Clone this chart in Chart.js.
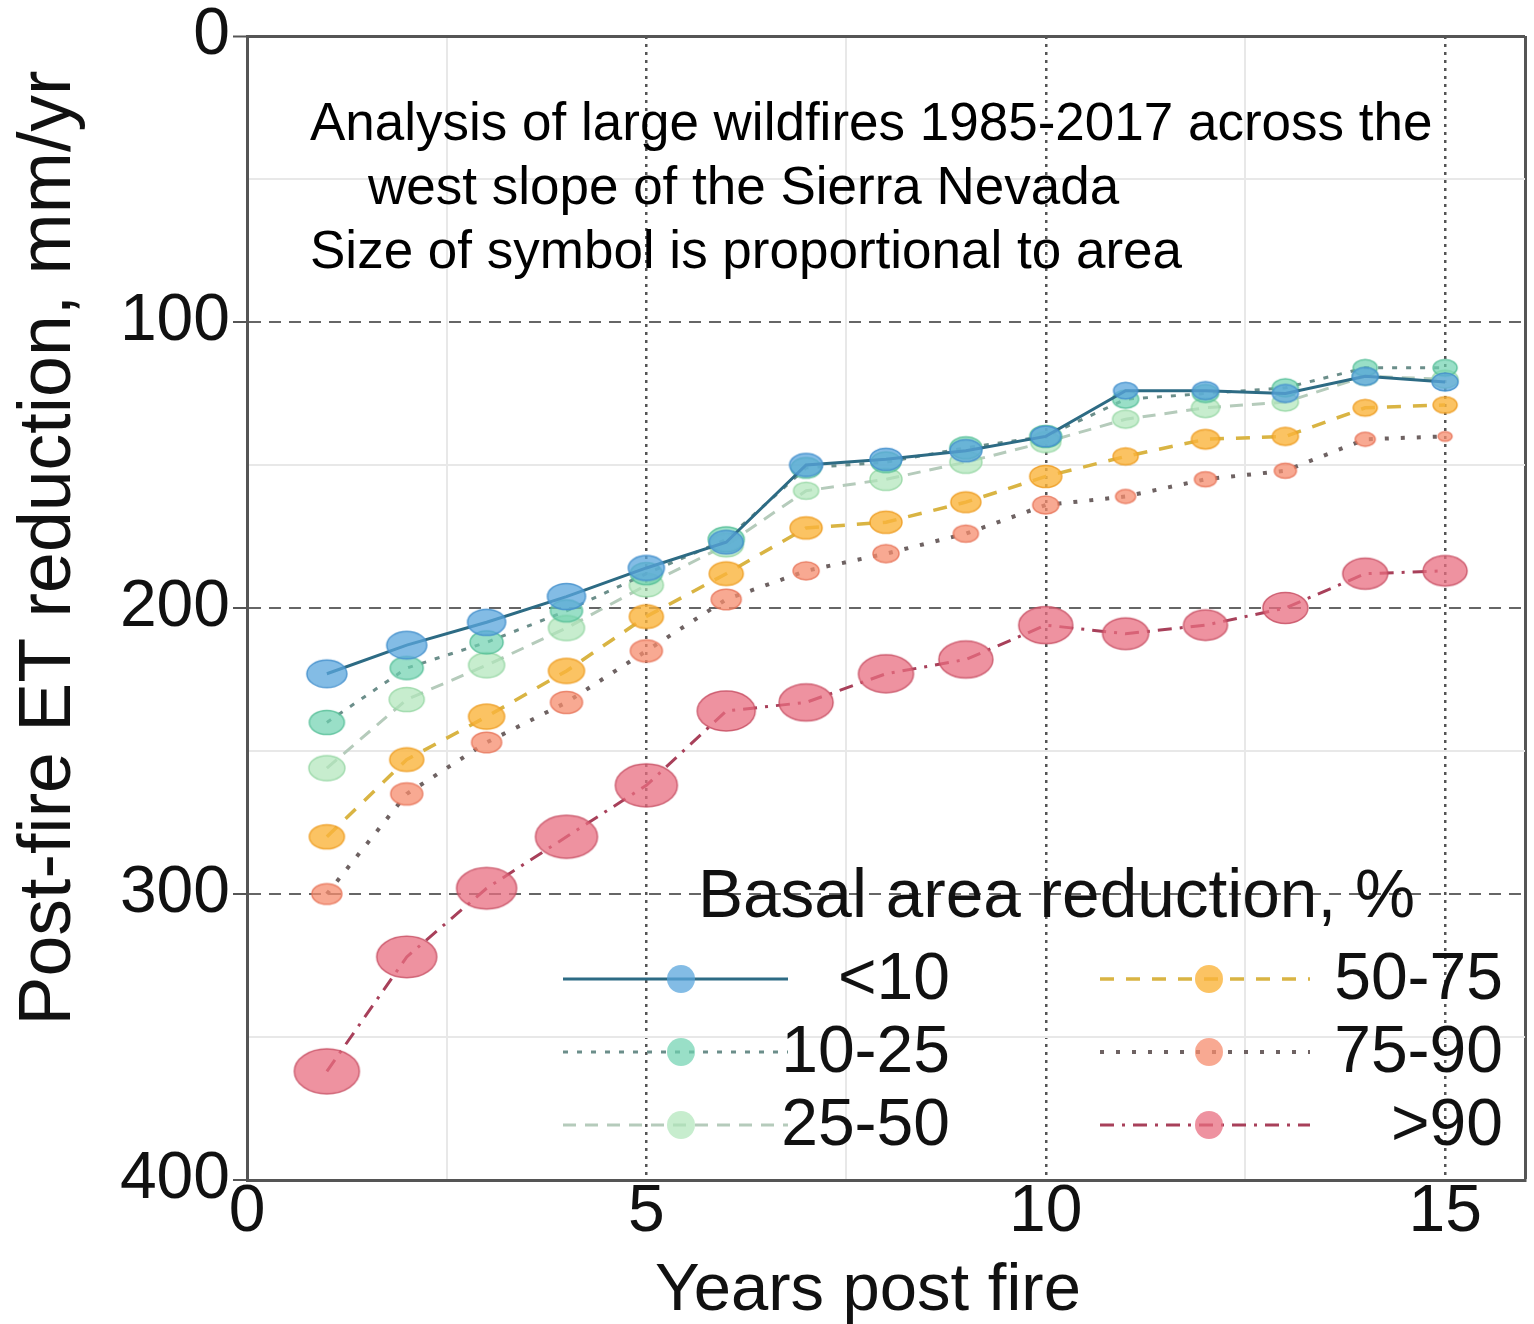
<!DOCTYPE html>
<html>
<head>
<meta charset="utf-8">
<script src="https://cdn.jsdelivr.net/npm/chart.js@4"></script>
<style>
  html, body { margin: 0; padding: 0; background: #fff; }
</style>
</head>
<body>
<canvas id="etChart" width="1534" height="1324"></canvas>
<script>
// years since fire
const years = [1, 2, 3, 4, 5, 6, 7, 8, 9, 10, 11, 12, 13, 14, 15];

// basal area reduction classes
const classes = ['<10', '10-25', '25-50', '50-75', '75-90', '>90'];

// post-fire ET reduction, mm/yr
const etLt10   = [223, 213, 205, 196, 186, 177, 150, 148, 145, 140, 124, 124, 125, 119, 121];
const et10to25 = [240, 221, 212, 201, 188, 176, 151, 149, 144, 140, 127, 125, 123, 116, 116];
const et25to50 = [256, 232, 220, 207, 192, 178, 159, 155, 149, 142, 134, 130, 128, 119, 120];
const et50to75 = [280, 253, 238, 222, 203, 188, 172, 170, 163, 154, 147, 141, 140, 130, 129];
const et75to90 = [300, 265, 247, 233, 215, 197, 187, 181, 174, 164, 161, 155, 152, 141, 140];
const etGt90   = [362, 322, 298, 280, 262, 236, 233, 223, 218, 206, 209, 206, 200, 188, 187];

// symbol half-widths (symbol area follows burned area)
const symLt10   = [20, 20, 19, 19, 18, 17, 16.5, 16, 16, 15, 12, 13, 13, 13, 13];
const sym10to25 = [17.5, 16.5, 16.5, 16, 16, 18, 15, 15, 16, 16, 13, 13, 13, 12, 12];
const sym25to50 = [18, 17.5, 18, 18, 17, 17, 12.5, 16, 16, 15, 13, 14, 13, 13, 13];
const sym50to75 = [17.5, 17, 18, 18, 17, 17, 16, 16, 15, 16, 12.5, 14, 13, 12, 12];
const sym75to90 = [15, 16, 15, 16, 16, 15, 13, 13, 12.5, 13, 10, 11, 11, 10, 7];
const symGt90   = [32.5, 30, 30, 31, 31, 29, 27, 27.5, 27, 27, 23, 22, 22.5, 22.5, 22];

const FONT = '"Liberation Sans", Arial, sans-serif';
Chart.defaults.font.family = FONT;

const styles = [
  { line: '#2d6b84', dash: [], width: 3, fill: 'rgba(90,166,220,0.75)', edge: 'rgba(70,145,205,0.9)' },
  { line: '#6b8e8a', dash: [5, 9], width: 3, fill: 'rgba(110,210,175,0.7)', edge: 'rgba(85,190,150,0.85)' },
  { line: '#b5cbbb', dash: [13, 9], width: 3, fill: 'rgba(175,230,185,0.7)', edge: 'rgba(150,215,165,0.85)' },
  { line: '#d9b443', dash: [14, 12], width: 3.5, fill: 'rgba(250,180,60,0.8)', edge: 'rgba(238,160,40,0.9)' },
  { line: '#6e6262', dash: [4, 12], width: 4, fill: 'rgba(245,140,110,0.75)', edge: 'rgba(232,118,90,0.85)' },
  { line: '#a8405a', dash: [14, 8, 3, 8], width: 3, fill: 'rgba(232,110,128,0.75)', edge: 'rgba(200,80,100,0.85)' }
];

const values = [etLt10, et10to25, et25to50, et50to75, et75to90, etGt90];
const symbols = [symLt10, sym10to25, sym25to50, sym50to75, sym75to90, symGt90];

// ellipse-shaped marker images, one per point
function ellipseMarker(rx, fill, edge) {
  const ry = rx / 1.45;
  const c = document.createElement('canvas');
  c.width = Math.ceil(rx * 2 + 4);
  c.height = Math.ceil(ry * 2 + 4);
  const g = c.getContext('2d');
  g.beginPath();
  g.ellipse(c.width / 2, c.height / 2, rx, ry, 0, 0, Math.PI * 2);
  g.fillStyle = fill;
  g.fill();
  g.lineWidth = 1.5;
  g.strokeStyle = edge;
  g.stroke();
  return c;
}

const markers = symbols.map((arr, i) => arr.map(r => ellipseMarker(r, styles[i].fill, styles[i].edge)));

const datasets = classes.map((name, i) => ({
  label: name,
  data: years.map((x, j) => ({ x: x, y: values[i][j] })),
  borderColor: styles[i].line,
  borderDash: styles[i].dash,
  borderWidth: styles[i].width,
  markerFill: styles[i].fill,
  fill: false,
  tension: 0,
  pointStyle: ctx => markers[i][ctx.dataIndex],
  pointRadius: ctx => symbols[i][ctx.dataIndex],
  clip: false
}));

// notes in the upper part of the plot, plus both axis titles
const notePlugin = {
  id: 'notes',
  afterDatasetsDraw(chart) {
    const ctx = chart.ctx;
    ctx.save();
    ctx.fillStyle = '#000';
    ctx.textBaseline = 'alphabetic';
    ctx.textAlign = 'left';
    ctx.font = '53px ' + FONT;
    ctx.fillText('Analysis of large wildfires 1985-2017 across the', 310, 140, 1130);
    ctx.fillText('west slope of the Sierra Nevada', 368, 204, 752);
    ctx.fillText('Size of symbol is proportional to area', 310, 268, 873);

    ctx.fillStyle = '#111';
    ctx.textAlign = 'center';
    ctx.font = '67px ' + FONT;
    ctx.fillText('Years post fire', 868, 1310, 430);

    ctx.translate(50, 548);
    ctx.rotate(-Math.PI / 2);
    ctx.textBaseline = 'middle';
    ctx.font = '74px ' + FONT;
    ctx.fillText('Post-fire ET reduction, mm/yr', 0, 0, 955);
    ctx.restore();
  }
};

// two-column key for the basal area classes
const keyPlugin = {
  id: 'classKey',
  afterDatasetsDraw(chart) {
    const ctx = chart.ctx;
    ctx.save();
    ctx.fillStyle = '#111';
    ctx.textBaseline = 'middle';
    ctx.textAlign = 'left';
    ctx.font = '68px ' + FONT;
    ctx.fillText('Basal area reduction, %', 698, 898, 717);

    const cols = [
      { x0: 563, x1: 788, mx: 681, tx: 950 },
      { x0: 1100, x1: 1310, mx: 1209, tx: 1503 }
    ];
    const rows = [979, 1052, 1125];
    chart.data.datasets.forEach((ds, i) => {
      const col = cols[Math.floor(i / 3)];
      const y = rows[i % 3];
      ctx.beginPath();
      ctx.setLineDash(ds.borderDash);
      ctx.lineWidth = ds.borderWidth;
      ctx.strokeStyle = ds.borderColor;
      ctx.moveTo(col.x0, y);
      ctx.lineTo(col.x1, y);
      ctx.stroke();
      ctx.setLineDash([]);
      ctx.beginPath();
      ctx.arc(col.mx, y, 14, 0, Math.PI * 2);
      ctx.fillStyle = ds.markerFill;
      ctx.fill();
      ctx.fillStyle = '#111';
      ctx.font = '66px ' + FONT;
      ctx.textAlign = 'right';
      ctx.fillText(ds.label, col.tx, y + 2);
    });
    ctx.restore();
  }
};

new Chart(document.getElementById('etChart').getContext('2d'), {
  type: 'line',
  data: { datasets: datasets },
  plugins: [notePlugin, keyPlugin],
  options: {
    responsive: false,
    animation: false,
    events: [],
    layout: { autoPadding: false, padding: { top: 33, right: 9, left: 0, bottom: 0 } },
    plugins: { legend: { display: false }, tooltip: { enabled: false } },
    scales: {
      x: {
        type: 'linear',
        min: 0,
        max: 16,
        afterBuildTicks: s => { s.ticks = [0, 2.5, 5, 7.5, 10, 12.5, 15, 16].map(v => ({ value: v })); },
        afterFit: s => {
          s.height = 144;
          s.paddingRight = 0;
          s.paddingLeft = 0;
        },
        ticks: {
          autoSkip: false,
          maxRotation: 0,
          padding: 0,
          color: '#111',
          font: { size: 66, lineHeight: 1 },
          callback: v => (v % 5 === 0 ? String(v) : '')
        },
        grid: {
          drawTicks: false,
          color: c => {
            const v = c.tick ? c.tick.value : -1;
            if (v === 0) return 'rgba(0,0,0,0)';
            if (v === 16) return '#555';
            return v % 5 === 0 ? '#555' : '#e8e8e8';
          },
          lineWidth: c => {
            const v = c.tick ? c.tick.value : -1;
            if (v === 16) return 3;
            return v % 5 === 0 ? 2.5 : 2;
          }
        },
        border: {
          color: '#555',
          width: 3,
          dash: c => (c.tick && c.tick.value % 5 === 0 && c.tick.value !== 0 ? [3, 5] : [])
        },
        title: { display: false }
      },
      y: {
        type: 'linear',
        reverse: true,
        min: 0,
        max: 400,
        afterBuildTicks: s => {
          const t = [];
          for (let v = 0; v <= 400; v += 50) t.push({ value: v });
          s.ticks = t;
        },
        afterFit: s => { s.width = 247; },
        ticks: {
          autoSkip: false,
          padding: 3,
          color: '#111',
          font: { size: 66, lineHeight: 1 },
          callback: v => (v % 100 === 0 ? String(v) : '')
        },
        grid: {
          drawTicks: true,
          tickLength: 14,
          tickWidth: 2,
          tickBorderDash: [],
          tickColor: c => (c.tick && c.tick.value % 100 === 0 ? '#555' : 'rgba(0,0,0,0)'),
          color: c => {
            const v = c.tick ? c.tick.value : -1;
            if (v === 400) return 'rgba(0,0,0,0)';
            if (v === 0) return '#555';
            return v % 100 === 0 ? '#666' : '#e8e8e8';
          },
          lineWidth: c => (c.tick && c.tick.value === 0 ? 3 : 2)
        },
        border: {
          color: '#555',
          width: 3,
          dash: c => (c.tick && c.tick.value % 100 === 0 && c.tick.value !== 0 ? [12, 8] : [])
        },
        title: { display: false }
      }
    }
  }
});
</script>
</body>
</html>
